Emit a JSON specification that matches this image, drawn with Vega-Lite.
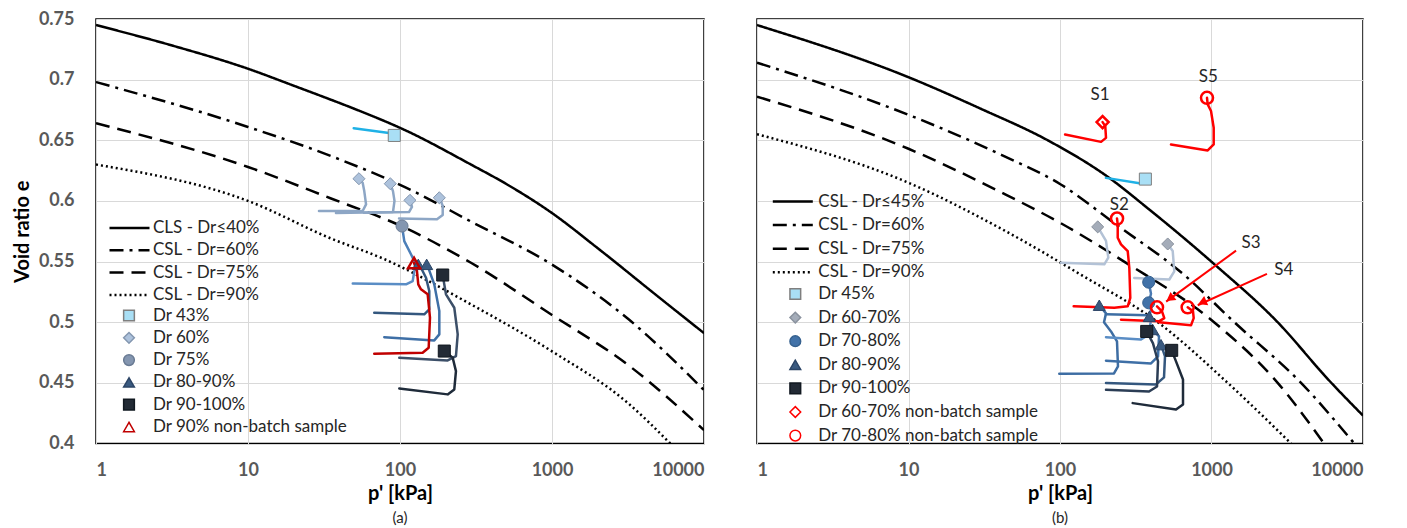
{
 "$schema": "https://vega.github.io/schema/vega-lite/v6.json",
 "background": "white",
 "padding": {"left": 11, "top": 9, "right": 5, "bottom": 2},
 "spacing": 53,
 "bounds": "flush",
 "resolve": {"scale": {"color": "independent", "strokeDash": "independent", "shape": "independent", "fill": "independent", "stroke": "independent", "x": "independent", "y": "independent"}, "legend": {"strokeDash": "independent", "shape": "independent", "fill": "independent", "stroke": "independent", "color": "independent"}},
 "config": {
  "view": {"stroke": "#000000", "strokeWidth": 1.5},
  "axis": {"labelFont": "Lato", "labelFontSize": 18, "labelFontWeight": "bold", "labelColor": "#595959", "titleFont": "Lato", "titleFontSize": 20, "titleFontWeight": "bold", "titleColor": "#000000", "gridColor": "#d9d9d9", "gridWidth": 1, "ticks": false, "tickSize": 0, "domain": false},
  "axisX": {"labelPadding": 18, "titlePadding": 4},
  "axisY": {"labelPadding": 22, "titlePadding": 6},
  "legend": {"labelFont": "Lato", "labelFontSize": 17, "labelColor": "#262626", "padding": 0, "labelLimit": 400},
  "title": {"font": "Lato", "fontSize": 15, "fontWeight": "normal", "color": "#262626"}
 },
 "datasets": {
  "csl": [
   {"panel":"a","curve":"CLS - Dr≤40%","p":1,"e":0.745},{"panel":"a","curve":"CLS - Dr≤40%","p":3.2,"e":0.728},{"panel":"a","curve":"CLS - Dr≤40%","p":10,"e":0.709},{"panel":"a","curve":"CLS - Dr≤40%","p":20,"e":0.695},{"panel":"a","curve":"CLS - Dr≤40%","p":32.6,"e":0.685},{"panel":"a","curve":"CLS - Dr≤40%","p":50,"e":0.676},{"panel":"a","curve":"CLS - Dr≤40%","p":109.5,"e":0.658},{"panel":"a","curve":"CLS - Dr≤40%","p":293,"e":0.63},{"panel":"a","curve":"CLS - Dr≤40%","p":500,"e":0.614},{"panel":"a","curve":"CLS - Dr≤40%","p":1000,"e":0.59},{"panel":"a","curve":"CLS - Dr≤40%","p":2000,"e":0.561},{"panel":"a","curve":"CLS - Dr≤40%","p":5000,"e":0.521},{"panel":"a","curve":"CLS - Dr≤40%","p":10000,"e":0.491},
   {"panel":"a","curve":"CSL - Dr=60%","p":1,"e":0.698},{"panel":"a","curve":"CSL - Dr=60%","p":10,"e":0.661},{"panel":"a","curve":"CSL - Dr=60%","p":35.2,"e":0.637},{"panel":"a","curve":"CSL - Dr=60%","p":109.5,"e":0.611},{"panel":"a","curve":"CSL - Dr=60%","p":293,"e":0.583},{"panel":"a","curve":"CSL - Dr=60%","p":1000,"e":0.5475},{"panel":"a","curve":"CSL - Dr=60%","p":3148,"e":0.503},{"panel":"a","curve":"CSL - Dr=60%","p":10000,"e":0.444},
   {"panel":"a","curve":"CSL - Dr=75%","p":1,"e":0.664},{"panel":"a","curve":"CSL - Dr=75%","p":10,"e":0.628},{"panel":"a","curve":"CSL - Dr=75%","p":35.2,"e":0.602},{"panel":"a","curve":"CSL - Dr=75%","p":103,"e":0.579},{"panel":"a","curve":"CSL - Dr=75%","p":293,"e":0.549},{"panel":"a","curve":"CSL - Dr=75%","p":1000,"e":0.506},{"panel":"a","curve":"CSL - Dr=75%","p":3148,"e":0.465},{"panel":"a","curve":"CSL - Dr=75%","p":10000,"e":0.411},
   {"panel":"a","curve":"CSL - Dr=90%","p":1,"e":0.63},{"panel":"a","curve":"CSL - Dr=90%","p":10,"e":0.6},{"panel":"a","curve":"CSL - Dr=90%","p":35.2,"e":0.569},{"panel":"a","curve":"CSL - Dr=90%","p":78.9,"e":0.552},{"panel":"a","curve":"CSL - Dr=90%","p":293,"e":0.5147},{"panel":"a","curve":"CSL - Dr=90%","p":1000,"e":0.476},{"panel":"a","curve":"CSL - Dr=90%","p":3148,"e":0.4335},{"panel":"a","curve":"CSL - Dr=90%","p":6000,"e":0.4},
   {"panel":"b","curve":"CSL - Dr≤45%","p":1,"e":0.745},{"panel":"b","curve":"CSL - Dr≤45%","p":10,"e":0.702},{"panel":"b","curve":"CSL - Dr≤45%","p":30,"e":0.676},{"panel":"b","curve":"CSL - Dr≤45%","p":83,"e":0.65},{"panel":"b","curve":"CSL - Dr≤45%","p":206,"e":0.62},{"panel":"b","curve":"CSL - Dr≤45%","p":379,"e":0.594},{"panel":"b","curve":"CSL - Dr≤45%","p":1040,"e":0.548},{"panel":"b","curve":"CSL - Dr≤45%","p":2734,"e":0.5},{"panel":"b","curve":"CSL - Dr≤45%","p":5970,"e":0.452},{"panel":"b","curve":"CSL - Dr≤45%","p":10000,"e":0.423},
   {"panel":"b","curve":"CSL - Dr=60%","p":1,"e":0.714},{"panel":"b","curve":"CSL - Dr=60%","p":10,"e":0.671},{"panel":"b","curve":"CSL - Dr=60%","p":41,"e":0.638},{"panel":"b","curve":"CSL - Dr=60%","p":100,"e":0.614},{"panel":"b","curve":"CSL - Dr=60%","p":238,"e":0.58},{"panel":"b","curve":"CSL - Dr=60%","p":646,"e":0.54},{"panel":"b","curve":"CSL - Dr=60%","p":1414,"e":0.5},{"panel":"b","curve":"CSL - Dr=60%","p":3900,"e":0.45},{"panel":"b","curve":"CSL - Dr=60%","p":8760,"e":0.4},
   {"panel":"b","curve":"CSL - Dr=75%","p":1,"e":0.686},{"panel":"b","curve":"CSL - Dr=75%","p":10,"e":0.643},{"panel":"b","curve":"CSL - Dr=75%","p":41,"e":0.607},{"panel":"b","curve":"CSL - Dr=75%","p":100,"e":0.582},{"panel":"b","curve":"CSL - Dr=75%","p":265,"e":0.55},{"panel":"b","curve":"CSL - Dr=75%","p":1040,"e":0.5},{"panel":"b","curve":"CSL - Dr=75%","p":2734,"e":0.45},{"panel":"b","curve":"CSL - Dr=75%","p":5530,"e":0.4},
   {"panel":"b","curve":"CSL - Dr=90%","p":1,"e":0.655},{"panel":"b","curve":"CSL - Dr=90%","p":10,"e":0.615},{"panel":"b","curve":"CSL - Dr=90%","p":41,"e":0.577},{"panel":"b","curve":"CSL - Dr=90%","p":138,"e":0.539},{"panel":"b","curve":"CSL - Dr=90%","p":442,"e":0.5},{"panel":"b","curve":"CSL - Dr=90%","p":1279,"e":0.45},{"panel":"b","curve":"CSL - Dr=90%","p":3350,"e":0.4}
  ],
  "paths": [
   {"panel":"a","path":"a_cyan","i":0,"p":49.6,"e":0.66},{"panel":"a","path":"a_cyan","i":1,"p":84.7,"e":0.656},{"panel":"a","path":"a_cyan","i":2,"p":91.7,"e":0.654},
   {"panel":"a","path":"a_d1","i":0,"p":29.3,"e":0.5917},{"panel":"a","path":"a_d1","i":1,"p":56.8,"e":0.5917},{"panel":"a","path":"a_d1","i":2,"p":59.8,"e":0.5972},{"panel":"a","path":"a_d1","i":3,"p":58.2,"e":0.6081},{"panel":"a","path":"a_d1","i":4,"p":56.8,"e":0.615},{"panel":"a","path":"a_d1","i":5,"p":53.7,"e":0.6183},
   {"panel":"a","path":"a_d2","i":0,"p":37.9,"e":0.59},{"panel":"a","path":"a_d2","i":1,"p":89.9,"e":0.5908},{"panel":"a","path":"a_d2","i":2,"p":92,"e":0.6},{"panel":"a","path":"a_d2","i":3,"p":89.9,"e":0.6081},{"panel":"a","path":"a_d2","i":4,"p":86.3,"e":0.6142},
   {"panel":"a","path":"a_d3","i":0,"p":57.9,"e":0.5903},{"panel":"a","path":"a_d3","i":1,"p":114.6,"e":0.5908},{"panel":"a","path":"a_d3","i":2,"p":119.9,"e":0.595},{"panel":"a","path":"a_d3","i":3,"p":118.1,"e":0.5983},{"panel":"a","path":"a_d3","i":4,"p":116.3,"e":0.6005},
   {"panel":"a","path":"a_d4","i":0,"p":98.5,"e":0.5856},{"panel":"a","path":"a_d4","i":1,"p":175.1,"e":0.5848},{"panel":"a","path":"a_d4","i":2,"p":191,"e":0.5884},{"panel":"a","path":"a_d4","i":3,"p":191,"e":0.5958},{"panel":"a","path":"a_d4","i":4,"p":186.1,"e":0.5999},{"panel":"a","path":"a_d4","i":5,"p":181.4,"e":0.6026},
   {"panel":"a","path":"a_c","i":0,"p":103.1,"e":0.5793},{"panel":"a","path":"a_c","i":1,"p":106.7,"e":0.5669},{"panel":"a","path":"a_c","i":2,"p":118.1,"e":0.556},{"panel":"a","path":"a_c","i":3,"p":127.4,"e":0.5477},
   {"panel":"a","path":"a_p1","i":0,"p":48.9,"e":0.532},{"panel":"a","path":"a_p1","i":1,"p":109.5,"e":0.5312},{"panel":"a","path":"a_p1","i":2,"p":121.2,"e":0.5339},{"panel":"a","path":"a_p1","i":3,"p":124.2,"e":0.5422},{"panel":"a","path":"a_p1","i":4,"p":129.3,"e":0.5463},
   {"panel":"a","path":"a_p2","i":0,"p":67.7,"e":0.5078},{"panel":"a","path":"a_p2","i":1,"p":144.4,"e":0.5065},{"panel":"a","path":"a_p2","i":2,"p":155.8,"e":0.5106},{"panel":"a","path":"a_p2","i":3,"p":155.8,"e":0.5257},{"panel":"a","path":"a_p2","i":4,"p":148.3,"e":0.5367},{"panel":"a","path":"a_p2","i":5,"p":137.4,"e":0.5449},
   {"panel":"a","path":"a_p3","i":0,"p":78.8,"e":0.4877},{"panel":"a","path":"a_p3","i":1,"p":168.1,"e":0.485},{"panel":"a","path":"a_p3","i":2,"p":181.4,"e":0.49},{"panel":"a","path":"a_p3","i":3,"p":181.4,"e":0.5092},{"panel":"a","path":"a_p3","i":4,"p":168.1,"e":0.5312},{"panel":"a","path":"a_p3","i":5,"p":152.1,"e":0.5463},
   {"panel":"a","path":"a_p4","i":0,"p":98.9,"e":0.4707},{"panel":"a","path":"a_p4","i":1,"p":205.9,"e":0.4685},{"panel":"a","path":"a_p4","i":2,"p":233.4,"e":0.4721},{"panel":"a","path":"a_p4","i":3,"p":239.7,"e":0.49},{"panel":"a","path":"a_p4","i":4,"p":227.6,"e":0.5119},{"panel":"a","path":"a_p4","i":5,"p":200.7,"e":0.523},{"panel":"a","path":"a_p4","i":6,"p":195.6,"e":0.5312},{"panel":"a","path":"a_p4","i":7,"p":191,"e":0.5389},
   {"panel":"a","path":"a_p5","i":0,"p":98.9,"e":0.4454},{"panel":"a","path":"a_p5","i":1,"p":205.9,"e":0.4405},{"panel":"a","path":"a_p5","i":2,"p":227.6,"e":0.4446},{"panel":"a","path":"a_p5","i":3,"p":233.4,"e":0.4597},{"panel":"a","path":"a_p5","i":4,"p":222.2,"e":0.4707},{"panel":"a","path":"a_p5","i":5,"p":195.6,"e":0.4762},
   {"panel":"a","path":"a_red","i":0,"p":67.7,"e":0.474},{"panel":"a","path":"a_red","i":1,"p":140.9,"e":0.4748},{"panel":"a","path":"a_red","i":2,"p":154.4,"e":0.4789},{"panel":"a","path":"a_red","i":3,"p":157.5,"e":0.5037},{"panel":"a","path":"a_red","i":4,"p":152.1,"e":0.523},{"panel":"a","path":"a_red","i":5,"p":137.4,"e":0.5271},{"panel":"a","path":"a_red","i":6,"p":131.9,"e":0.5312},{"panel":"a","path":"a_red","i":7,"p":129.3,"e":0.5422},{"panel":"a","path":"a_red","i":8,"p":123.7,"e":0.5488},
   {"panel":"b","path":"b_cyan","i":0,"p":201,"e":0.619},{"panel":"b","path":"b_cyan","i":1,"p":342.6,"e":0.6144},{"panel":"b","path":"b_cyan","i":2,"p":366,"e":0.618},
   {"panel":"b","path":"b_g1","i":0,"p":101.5,"e":0.549},{"panel":"b","path":"b_g1","i":1,"p":196.1,"e":0.5477},{"panel":"b","path":"b_g1","i":2,"p":208.4,"e":0.5532},{"panel":"b","path":"b_g1","i":3,"p":201.2,"e":0.567},{"panel":"b","path":"b_g1","i":4,"p":177.4,"e":0.5786},
   {"panel":"b","path":"b_g2","i":0,"p":309,"e":0.5365},{"panel":"b","path":"b_g2","i":1,"p":526.6,"e":0.5352},{"panel":"b","path":"b_g2","i":2,"p":568.1,"e":0.542},{"panel":"b","path":"b_g2","i":3,"p":554.6,"e":0.5587},{"panel":"b","path":"b_g2","i":4,"p":514,"e":0.5645},
   {"panel":"b","path":"b_c","i":0,"p":385.1,"e":0.5331},{"panel":"b","path":"b_c","i":1,"p":398.7,"e":0.5235},{"panel":"b","path":"b_c","i":2,"p":385.1,"e":0.5158},{"panel":"b","path":"b_c","i":3,"p":398.7,"e":0.5105},{"panel":"b","path":"b_c","i":4,"p":388.6,"e":0.5048},
   {"panel":"b","path":"b_t1","i":0,"p":98.9,"e":0.4575},{"panel":"b","path":"b_t1","i":1,"p":227.2,"e":0.4578},{"panel":"b","path":"b_t1","i":2,"p":241.4,"e":0.4636},{"panel":"b","path":"b_t1","i":3,"p":237.8,"e":0.4842},{"panel":"b","path":"b_t1","i":4,"p":217.1,"e":0.4924},{"panel":"b","path":"b_t1","i":5,"p":195.2,"e":0.4999},{"panel":"b","path":"b_t1","i":6,"p":201.2,"e":0.5073},{"panel":"b","path":"b_t1","i":7,"p":181.7,"e":0.514},
   {"panel":"b","path":"b_t7","i":0,"p":201.2,"e":0.5065},{"panel":"b","path":"b_t7","i":1,"p":380,"e":0.5057},{"panel":"b","path":"b_t7","i":2,"p":388.6,"e":0.5048},
   {"panel":"b","path":"b_1","i":0,"p":201.2,"e":0.4877},{"panel":"b","path":"b_1","i":1,"p":342.4,"e":0.4858},{"panel":"b","path":"b_1","i":2,"p":386.8,"e":0.49},{"panel":"b","path":"b_1","i":3,"p":398.7,"e":0.5024},{"panel":"b","path":"b_1","i":4,"p":388.6,"e":0.5048},
   {"panel":"b","path":"b_2","i":0,"p":201.2,"e":0.4683},{"panel":"b","path":"b_2","i":1,"p":398.7,"e":0.466},{"panel":"b","path":"b_2","i":2,"p":443.6,"e":0.4718},{"panel":"b","path":"b_2","i":3,"p":450.4,"e":0.4883},{"panel":"b","path":"b_2","i":4,"p":409.1,"e":0.4938},
   {"panel":"b","path":"b_4","i":0,"p":201.2,"e":0.4498},{"panel":"b","path":"b_4","i":1,"p":430.3,"e":0.4487},{"panel":"b","path":"b_4","i":2,"p":485.9,"e":0.4545},{"panel":"b","path":"b_4","i":3,"p":493.3,"e":0.4718},{"panel":"b","path":"b_4","i":4,"p":464.2,"e":0.4815},
   {"panel":"b","path":"b_5","i":0,"p":201.2,"e":0.4443},{"panel":"b","path":"b_5","i":1,"p":386.8,"e":0.4429},{"panel":"b","path":"b_5","i":2,"p":436.9,"e":0.447},{"panel":"b","path":"b_5","i":3,"p":443.6,"e":0.4677},{"panel":"b","path":"b_5","i":4,"p":411,"e":0.4826},{"panel":"b","path":"b_5","i":5,"p":373.5,"e":0.4924},
   {"panel":"b","path":"b_6","i":0,"p":301.9,"e":0.4333},{"panel":"b","path":"b_6","i":1,"p":583.1,"e":0.4281},{"panel":"b","path":"b_6","i":2,"p":648.5,"e":0.4322},{"panel":"b","path":"b_6","i":3,"p":648.5,"e":0.4528},{"panel":"b","path":"b_6","i":4,"p":583.1,"e":0.4677},{"panel":"b","path":"b_6","i":5,"p":546.2,"e":0.4768},
   {"panel":"b","path":"b_s1","i":0,"p":108,"e":0.6548},{"panel":"b","path":"b_s1","i":1,"p":186.6,"e":0.6487},{"panel":"b","path":"b_s1","i":2,"p":201.2,"e":0.652},{"panel":"b","path":"b_s1","i":3,"p":199,"e":0.6617},{"panel":"b","path":"b_s1","i":4,"p":191,"e":0.665},
   {"panel":"b","path":"b_s5","i":0,"p":540,"e":0.6466},{"panel":"b","path":"b_s5","i":1,"p":944,"e":0.6416},{"panel":"b","path":"b_s5","i":2,"p":1034,"e":0.6466},{"panel":"b","path":"b_s5","i":3,"p":1034,"e":0.6603},{"panel":"b","path":"b_s5","i":4,"p":992.5,"e":0.6741},{"panel":"b","path":"b_s5","i":5,"p":944,"e":0.6796},{"panel":"b","path":"b_s5","i":6,"p":934,"e":0.685},
   {"panel":"b","path":"b_s2","i":0,"p":123.1,"e":0.5131},{"panel":"b","path":"b_s2","i":1,"p":228.2,"e":0.5119},{"panel":"b","path":"b_s2","i":2,"p":279.9,"e":0.5131},{"panel":"b","path":"b_s2","i":3,"p":291.1,"e":0.52},{"panel":"b","path":"b_s2","i":4,"p":286.8,"e":0.5447},{"panel":"b","path":"b_s2","i":5,"p":279.9,"e":0.5587},{"panel":"b","path":"b_s2","i":6,"p":252.7,"e":0.5642},{"panel":"b","path":"b_s2","i":7,"p":240.4,"e":0.5697},{"panel":"b","path":"b_s2","i":8,"p":240.4,"e":0.5807},{"panel":"b","path":"b_s2","i":9,"p":237.8,"e":0.5856},
   {"panel":"b","path":"b_s3","i":0,"p":252.7,"e":0.5021},{"panel":"b","path":"b_s3","i":1,"p":450.4,"e":0.5007},{"panel":"b","path":"b_s3","i":2,"p":488,"e":0.5034},{"panel":"b","path":"b_s3","i":3,"p":471.3,"e":0.509},{"panel":"b","path":"b_s3","i":4,"p":436.9,"e":0.5131},
   {"panel":"b","path":"b_s4","i":0,"p":450.4,"e":0.4999},{"panel":"b","path":"b_s4","i":1,"p":732.2,"e":0.4974},{"panel":"b","path":"b_s4","i":2,"p":762.9,"e":0.5034},{"panel":"b","path":"b_s4","i":3,"p":755,"e":0.509},{"panel":"b","path":"b_s4","i":4,"p":696.4,"e":0.5123}
  ],
  "points": [
   {"panel":"a","group":"Dr 43%","p":91.7,"e":0.654},
   {"panel":"a","group":"Dr 60%","p":53.7,"e":0.6183},{"panel":"a","group":"Dr 60%","p":86.3,"e":0.6142},{"panel":"a","group":"Dr 60%","p":116.3,"e":0.6005},{"panel":"a","group":"Dr 60%","p":181.4,"e":0.6026},
   {"panel":"a","group":"Dr 75%","p":103.1,"e":0.5793},
   {"panel":"a","group":"Dr 80-90%","p":131.9,"e":0.5477},{"panel":"a","group":"Dr 80-90%","p":149.8,"e":0.5477},
   {"panel":"a","group":"Dr 90-100%","p":191,"e":0.5389},{"panel":"a","group":"Dr 90-100%","p":195.6,"e":0.4762},
   {"panel":"a","group":"Dr 90% non-batch sample","p":123.7,"e":0.5488},
   {"panel":"b","group":"Dr 45%","p":366,"e":0.618},
   {"panel":"b","group":"Dr 60-70%","p":177.4,"e":0.5786},{"panel":"b","group":"Dr 60-70%","p":514,"e":0.5645},
   {"panel":"b","group":"Dr 70-80%","p":385,"e":0.533},{"panel":"b","group":"Dr 70-80%","p":385,"e":0.516},
   {"panel":"b","group":"Dr 80-90%","p":181.7,"e":0.514},{"panel":"b","group":"Dr 80-90%","p":388.6,"e":0.5048},{"panel":"b","group":"Dr 80-90%","p":409,"e":0.494},{"panel":"b","group":"Dr 80-90%","p":464,"e":0.4815},
   {"panel":"b","group":"Dr 90-100%","p":373.5,"e":0.4924},{"panel":"b","group":"Dr 90-100%","p":546,"e":0.4768},
   {"panel":"b","group":"Dr 60-70% non-batch sample","p":191,"e":0.665},
   {"panel":"b","group":"Dr 70-80% non-batch sample","p":238,"e":0.5855},{"panel":"b","group":"Dr 70-80% non-batch sample","p":437,"e":0.5123},{"panel":"b","group":"Dr 70-80% non-batch sample","p":696,"e":0.5123},{"panel":"b","group":"Dr 70-80% non-batch sample","p":934,"e":0.685}
  ],
  "labels": [
   {"label":"S1","p":183.7,"e":0.687},{"label":"S2","p":246,"e":0.5965},{"label":"S3","p":1824,"e":0.5653},{"label":"S4","p":2997,"e":0.5434},{"label":"S5","p":953,"e":0.702}
  ],
  "arrows": [
   {"label":"S3","p":1452,"e":0.559,"p2":502,"e2":0.517},{"label":"S4","p":2323,"e":0.5398,"p2":811,"e2":0.514}
  ],
  "heads": [
   {"label":"S3","p":532,"e":0.5195},{"label":"S4","p":869,"e":0.5164}
  ]
 },
 "hconcat": [
  {
   "width": 608, "height": 424.5,
   "title": {"text": "(a)", "orient": "bottom", "offset": 7},
   "layer": [
    {
     "data": {"name": "csl"},
     "transform": [{"filter": "datum.panel === 'a'"}],
     "mark": {"type": "line", "color": "#000000", "strokeWidth": 2.5, "clip": true, "interpolate": "monotone"},
     "encoding": {
      "x": {"field": "p", "type": "quantitative", "scale": {"type": "log", "domain": [1, 10000], "nice": false}, "axis": {"title": "p' [kPa]", "values": [1, 10, 100, 1000, 10000], "format": "d", "grid": true}},
      "y": {"field": "e", "type": "quantitative", "scale": {"domain": [0.4, 0.75], "nice": false, "zero": false}, "axis": {"title": "Void ratio e", "values": [0.4, 0.45, 0.5, 0.55, 0.6, 0.65, 0.7, 0.75], "format": "~g", "grid": true}},
      "strokeDash": {"field": "curve", "type": "nominal", "scale": {"domain": ["CLS - Dr≤40%", "CSL - Dr=60%", "CSL - Dr=75%", "CSL - Dr=90%"], "range": [[1, 0], [14, 6, 3, 6], [14, 8], [2, 3]]}, "legend": {"title": null, "orient": "none", "legendX": 12, "legendY": 201.5, "symbolType": "stroke", "symbolSize": 1600, "symbolStrokeWidth": 2.5, "symbolStrokeColor": "#000000", "clipHeight": 15, "rowPadding": 4.3, "labelOffset": 2}}
     }
    },
    {
     "data": {"name": "paths"},
     "transform": [{"filter": "datum.panel === 'a'"}],
     "mark": {"type": "line", "strokeWidth": 2.5, "clip": true, "strokeJoin": "round", "strokeCap": "round"},
     "encoding": {
      "x": {"field": "p", "type": "quantitative"},
      "y": {"field": "e", "type": "quantitative"},
      "color": {"field": "path", "type": "nominal", "scale": {"domain": ["a_cyan", "a_d1", "a_d2", "a_d3", "a_d4", "a_c", "a_p1", "a_p2", "a_p3", "a_p4", "a_p5", "a_red"], "range": ["#1fb1e6", "#8da6c5", "#8da6c5", "#8da6c5", "#8da6c5", "#4d7fb8", "#5a8dc5", "#34577e", "#3e6fa6", "#3c4f68", "#1f2b3a", "#c00000"]}, "legend": null},
      "order": {"field": "i", "type": "quantitative"}
     }
    },
    {
     "data": {"name": "points"},
     "transform": [{"filter": "datum.panel === 'a'"}],
     "mark": {"type": "point", "size": 145, "opacity": 1, "clip": true},
     "encoding": {
      "x": {"field": "p", "type": "quantitative"},
      "y": {"field": "e", "type": "quantitative"},
      "shape": {"field": "group", "type": "nominal", "scale": {"domain": ["Dr 43%", "Dr 60%", "Dr 75%", "Dr 80-90%", "Dr 90-100%", "Dr 90% non-batch sample"], "range": ["square", "diamond", "circle", "triangle-up", "square", "triangle-up"]}, "legend": {"title": null, "orient": "none", "legendX": 24.5, "legendY": 289, "symbolSize": 115, "clipHeight": 15, "rowPadding": 4.3, "labelOffset": 15.5, "encode": {"symbols": {"update": {"strokeWidth": {"signal": "indexof(datum.value, 'non-batch') >= 0 ? 2.5 : 1"}}}}}},
      "fill": {"field": "group", "type": "nominal", "scale": {"domain": ["Dr 43%", "Dr 60%", "Dr 75%", "Dr 80-90%", "Dr 90-100%", "Dr 90% non-batch sample"], "range": ["#a9dff5", "#adc2dc", "#8496b0", "#3a5a80", "#222a35", "transparent"]}, "legend": {"title": null, "orient": "none", "legendX": 24.5, "legendY": 289, "symbolSize": 115, "clipHeight": 15, "rowPadding": 4.3, "labelOffset": 15.5, "encode": {"symbols": {"update": {"strokeWidth": {"signal": "indexof(datum.value, 'non-batch') >= 0 ? 2.5 : 1"}}}}}},
      "stroke": {"field": "group", "type": "nominal", "scale": {"domain": ["Dr 43%", "Dr 60%", "Dr 75%", "Dr 80-90%", "Dr 90-100%", "Dr 90% non-batch sample"], "range": ["#7f7f7f", "#8497b0", "#6a7b94", "#2c4566", "#111820", "#c00000"]}, "legend": {"title": null, "orient": "none", "legendX": 24.5, "legendY": 289, "symbolSize": 115, "clipHeight": 15, "rowPadding": 4.3, "labelOffset": 15.5, "encode": {"symbols": {"update": {"strokeWidth": {"signal": "indexof(datum.value, 'non-batch') >= 0 ? 2.5 : 1"}}}}}},
      "strokeWidth": {"condition": {"test": "indexof(datum.group, 'non-batch') >= 0", "value": 2.5}, "value": 1}
     }
    }
   ]
  },
  {
   "width": 606, "height": 424.5,
   "title": {"text": "(b)", "orient": "bottom", "offset": 7},
   "layer": [
    {
     "data": {"name": "csl"},
     "transform": [{"filter": "datum.panel === 'b'"}],
     "mark": {"type": "line", "color": "#000000", "strokeWidth": 2.5, "clip": true, "interpolate": "monotone"},
     "encoding": {
      "x": {"field": "p", "type": "quantitative", "scale": {"type": "log", "domain": [1, 10000], "nice": false}, "axis": {"title": "p' [kPa]", "values": [1, 10, 100, 1000, 10000], "format": "d", "grid": true}},
      "y": {"field": "e", "type": "quantitative", "scale": {"domain": [0.4, 0.75], "nice": false, "zero": false}, "axis": {"title": null, "labels": false, "values": [0.4, 0.45, 0.5, 0.55, 0.6, 0.65, 0.7, 0.75], "grid": true}},
      "strokeDash": {"field": "curve", "type": "nominal", "scale": {"domain": ["CSL - Dr≤45%", "CSL - Dr=60%", "CSL - Dr=75%", "CSL - Dr=90%"], "range": [[1, 0], [14, 6, 3, 6], [14, 8], [2, 3]]}, "legend": {"title": null, "orient": "none", "legendX": 14.3, "legendY": 175, "symbolType": "stroke", "symbolSize": 1600, "symbolStrokeWidth": 2.5, "symbolStrokeColor": "#000000", "clipHeight": 15, "rowPadding": 5.6, "labelOffset": 4}}
     }
    },
    {
     "data": {"name": "paths"},
     "transform": [{"filter": "datum.panel === 'b'"}],
     "mark": {"type": "line", "strokeWidth": 2.5, "clip": true, "strokeJoin": "round", "strokeCap": "round"},
     "encoding": {
      "x": {"field": "p", "type": "quantitative"},
      "y": {"field": "e", "type": "quantitative"},
      "color": {"field": "path", "type": "nominal", "scale": {"domain": ["b_cyan", "b_g1", "b_g2", "b_c", "b_t1", "b_t7", "b_1", "b_2", "b_4", "b_5", "b_6", "b_s1", "b_s5", "b_s2", "b_s3", "b_s4"], "range": ["#1fb1e6", "#b3c2d6", "#b3c2d6", "#4a7ab3", "#3d6da3", "#3d6da3", "#5a8dc5", "#3e6fa6", "#34577e", "#2b3d55", "#1f2b3a", "#ff0000", "#ff0000", "#ff0000", "#ff0000", "#ff0000"]}, "legend": null},
      "order": {"field": "i", "type": "quantitative"}
     }
    },
    {
     "data": {"name": "arrows"},
     "mark": {"type": "rule", "color": "#ff0000", "strokeWidth": 2},
     "encoding": {
      "x": {"field": "p", "type": "quantitative"},
      "y": {"field": "e", "type": "quantitative"},
      "x2": {"field": "p2"},
      "y2": {"field": "e2"}
     }
    },
    {
     "data": {"name": "heads"},
     "transform": [{"filter": "datum.label === 'S3'"}],
     "mark": {"type": "point", "shape": "triangle-up", "angle": 234, "size": 100, "filled": true, "color": "#ff0000", "opacity": 1},
     "encoding": {"x": {"field": "p", "type": "quantitative"}, "y": {"field": "e", "type": "quantitative"}}
    },
    {
     "data": {"name": "heads"},
     "transform": [{"filter": "datum.label === 'S4'"}],
     "mark": {"type": "point", "shape": "triangle-up", "angle": 246, "size": 100, "filled": true, "color": "#ff0000", "opacity": 1},
     "encoding": {"x": {"field": "p", "type": "quantitative"}, "y": {"field": "e", "type": "quantitative"}}
    },
    {
     "data": {"name": "points"},
     "transform": [{"filter": "datum.panel === 'b'"}],
     "mark": {"type": "point", "size": 145, "opacity": 1, "clip": true},
     "encoding": {
      "x": {"field": "p", "type": "quantitative"},
      "y": {"field": "e", "type": "quantitative"},
      "shape": {"field": "group", "type": "nominal", "scale": {"domain": ["Dr 45%", "Dr 60-70%", "Dr 70-80%", "Dr 80-90%", "Dr 90-100%", "Dr 60-70% non-batch sample", "Dr 70-80% non-batch sample"], "range": ["square", "diamond", "circle", "triangle-up", "square", "diamond", "circle"]}, "legend": {"title": null, "orient": "none", "legendX": 29.8, "legendY": 267.5, "symbolSize": 115, "clipHeight": 15, "rowPadding": 5.6, "labelOffset": 14.5, "encode": {"symbols": {"update": {"strokeWidth": {"signal": "indexof(datum.value, 'non-batch') >= 0 ? 2.5 : 1"}}}}}},
      "fill": {"field": "group", "type": "nominal", "scale": {"domain": ["Dr 45%", "Dr 60-70%", "Dr 70-80%", "Dr 80-90%", "Dr 90-100%", "Dr 60-70% non-batch sample", "Dr 70-80% non-batch sample"], "range": ["#a9dff5", "#a4acb9", "#4272a8", "#3a5a80", "#222a35", "transparent", "transparent"]}, "legend": {"title": null, "orient": "none", "legendX": 29.8, "legendY": 267.5, "symbolSize": 115, "clipHeight": 15, "rowPadding": 5.6, "labelOffset": 14.5, "encode": {"symbols": {"update": {"strokeWidth": {"signal": "indexof(datum.value, 'non-batch') >= 0 ? 2.5 : 1"}}}}}},
      "stroke": {"field": "group", "type": "nominal", "scale": {"domain": ["Dr 45%", "Dr 60-70%", "Dr 70-80%", "Dr 80-90%", "Dr 90-100%", "Dr 60-70% non-batch sample", "Dr 70-80% non-batch sample"], "range": ["#7f7f7f", "#8a929e", "#36618f", "#2c4566", "#111820", "#ff0000", "#ff0000"]}, "legend": {"title": null, "orient": "none", "legendX": 29.8, "legendY": 267.5, "symbolSize": 115, "clipHeight": 15, "rowPadding": 5.6, "labelOffset": 14.5, "encode": {"symbols": {"update": {"strokeWidth": {"signal": "indexof(datum.value, 'non-batch') >= 0 ? 2.5 : 1"}}}}}},
      "strokeWidth": {"condition": {"test": "indexof(datum.group, 'non-batch') >= 0", "value": 2.5}, "value": 1}
     }
    },
    {
     "data": {"name": "labels"},
     "mark": {"type": "text", "fontSize": 17, "font": "Lato", "color": "#262626"},
     "encoding": {
      "x": {"field": "p", "type": "quantitative"},
      "y": {"field": "e", "type": "quantitative"},
      "text": {"field": "label"}
     }
    }
   ]
  }
 ]
}
